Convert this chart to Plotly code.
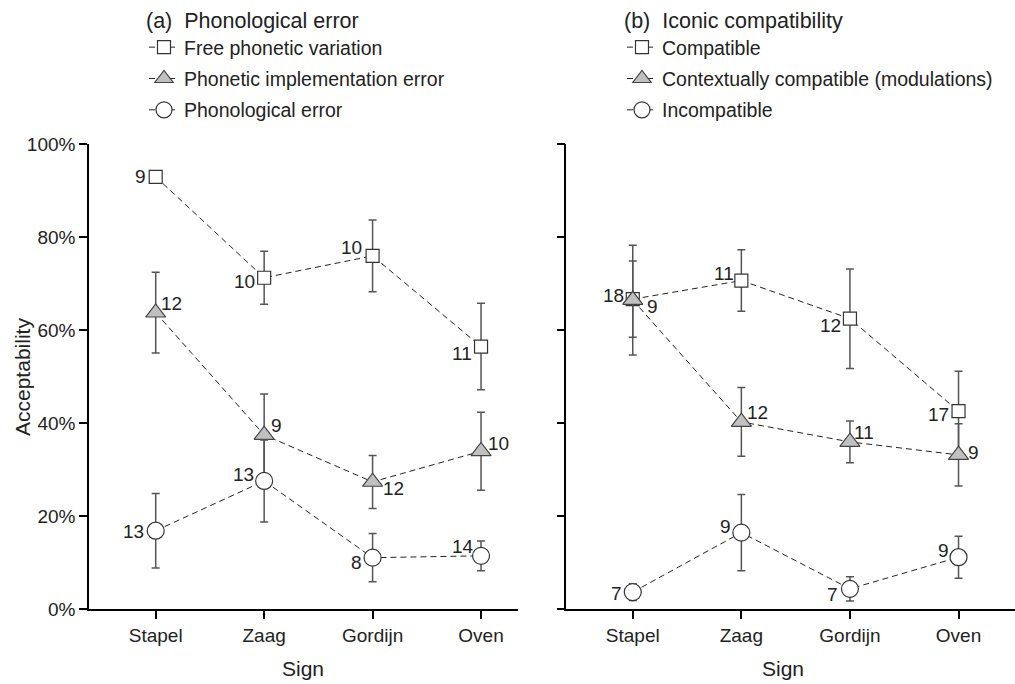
import plotly.graph_objects as go

signs = ["Stapel", "Zaag", "Gordijn", "Oven"]

# Panel (a) Phonological error
a_names = ["Free phonetic variation", "Phonetic implementation error", "Phonological error"]
a_free = [93.0, 71.3, 76.0, 56.5]
a_free_err = [1.2, 5.7, 7.7, 9.3]
a_free_n = [9, 10, 10, 11]
a_impl = [63.8, 37.5, 27.4, 34.0]
a_impl_err = [8.7, 8.8, 5.7, 8.4]
a_impl_n = [12, 9, 12, 10]
a_phon = [16.9, 27.6, 11.1, 11.5]
a_phon_err = [8.0, 8.8, 5.2, 3.2]
a_phon_n = [13, 13, 8, 14]

# Panel (b) Iconic compatibility
b_names = ["Compatible", "Contextually compatible (modulations)", "Incompatible"]
b_comp = [66.7, 70.7, 62.5, 42.6]
b_comp_err = [8.2, 6.6, 10.7, 8.6]
b_comp_n = [18, 11, 12, 17]
b_ctx = [66.5, 40.3, 36.0, 33.2]
b_ctx_err = [11.8, 7.4, 4.5, 6.7]
b_ctx_n = [9, 12, 11, 9]
b_inc = [3.7, 16.5, 4.4, 11.2]
b_inc_err = [1.8, 8.2, 2.6, 4.5]
b_inc_n = [7, 9, 7, 9]

FONT = "Liberation Sans, Arial, sans-serif"
TXT = "#222222"

styles = [
    dict(symbol="square", size=13, fill="white", edge="#333333"),
    dict(symbol="triangle-up", size=17.5, fill="#c0c0c0", edge="#444444"),
    dict(symbol="circle", size=17, fill="white", edge="#333333"),
]

# label pixel offsets (dx, dy) relative to each marker (style only)
a_shift = [
    [(-15, 0), (-20, -4), (-21, 8), (-19, -7)],
    [(16, 9), (12, 9), (21, -7), (17, 8)],
    [(-22, -1), (-21, 6), (-16, -5), (-18, 9)],
]
b_shift = [
    [(-19, 4), (-17, 7), (-19, -7), (-20, -3)],
    [(20, -6), (16, 9), (14, 9), (15, 2)],
    [(-16, -1), (-16, 6), (-17, -6), (-15, 7)],
]

fig = go.Figure()

def add_panel(names, vals, errs, ns, shifts, xa, ya, legend):
    for i in range(3):
        st = styles[i]
        fig.add_trace(go.Scatter(
            x=signs, y=vals[i], xaxis=xa, yaxis=ya, name=names[i],
            mode="lines+markers", legend=legend, legendgroup=legend + str(i),
            line=dict(color="#222222", width=1, dash="6px,4px"),
            marker=dict(symbol=st["symbol"], size=st["size"], color=st["fill"],
                        line=dict(color=st["edge"], width=1.2)),
            error_y=dict(type="data", array=errs[i], visible=True,
                         color="#555555", thickness=1.5, width=4),
            hoverinfo="skip",
        ))
    xref = "x" if xa == "x" else "x2"
    yref = "y" if ya == "y" else "y2"
    for i in range(3):
        for j, s in enumerate(signs):
            dx, dy = shifts[i][j]
            fig.add_annotation(
                x=s, y=vals[i][j], xref=xref, yref=yref, text=str(ns[i][j]),
                showarrow=False, xanchor="center", yanchor="middle",
                xshift=dx, yshift=dy,
                font=dict(family=FONT, size=19, color=TXT),
            )

add_panel(a_names, [a_free, a_impl, a_phon], [a_free_err, a_impl_err, a_phon_err],
          [a_free_n, a_impl_n, a_phon_n], a_shift, "x", "y", "legend")
add_panel(b_names, [b_comp, b_ctx, b_inc], [b_comp_err, b_ctx_err, b_inc_err],
          [b_comp_n, b_ctx_n, b_inc_n], b_shift, "x2", "y2", "legend2")

W, H = 1015, 684
y_dom = [(H - 609.3) / H, (H - 144.3) / H]

xcommon = dict(showline=True, linecolor="black", linewidth=1.5, ticks="outside",
               ticklen=8, tickwidth=1.5, tickcolor="black", showgrid=False,
               zeroline=False, tickfont=dict(family=FONT, size=19, color=TXT),
               automargin=False)
ycommon = dict(showline=True, linecolor="black", linewidth=1.5, ticks="outside",
               ticklen=8, tickwidth=1.5, tickcolor="black", showgrid=False,
               zeroline=False, range=[0, 100], dtick=20, ticksuffix="%",
               tickfont=dict(family=FONT, size=19, color=TXT), domain=y_dom,
               automargin=False)

legcommon = dict(y=1.0, xanchor="left", yanchor="top", font=dict(size=19.5),
                 bgcolor="rgba(0,0,0,0)", traceorder="grouped",
                 tracegroupgap=3, itemwidth=30)

fig.update_layout(
    width=W, height=H, margin=dict(l=0, r=0, t=0, b=0),
    paper_bgcolor="white", plot_bgcolor="white",
    font=dict(family=FONT, size=19, color=TXT),
    xaxis=dict(xcommon, domain=[89 / W, 517.7 / W], range=[-0.615, 3.338], anchor="y"),
    yaxis=dict(ycommon, anchor="x"),
    xaxis2=dict(xcommon, domain=[566.3 / W, 1.0], range=[-0.612, 3.52], anchor="y2"),
    yaxis2=dict(ycommon, anchor="x2", showticklabels=False),
    legend=dict(legcommon, x=144 / W,
                title=dict(text="(a)  Phonological error", font=dict(size=21.5))),
    legend2=dict(legcommon, x=622 / W,
                 title=dict(text="(b)  Iconic compatibility", font=dict(size=21.5))),
    showlegend=True,
)

annots = [
    dict(text="Sign", x=303 / W, y=(H - 668) / H),
    dict(text="Sign", x=783 / W, y=(H - 668) / H),
    dict(text="Acceptability", x=22 / W, y=(H - 377) / H, textangle=-90),
]
for a in annots:
    fig.add_annotation(xref="paper", yref="paper", showarrow=False,
                       xanchor="center", yanchor="middle",
                       font=dict(family=FONT, size=21, color=TXT), **a)

fig.write_html("out.html")
